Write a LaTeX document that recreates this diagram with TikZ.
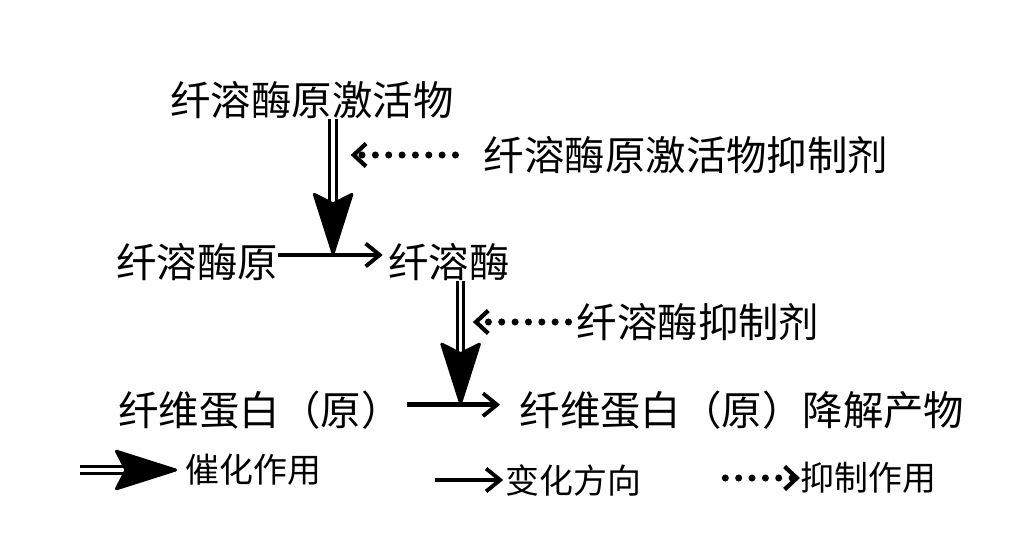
\documentclass[tikz,border=0pt]{standalone}
\usepackage{fontspec}
\setmainfont{Noto Sans CJK SC}
\usetikzlibrary{arrows.meta}
\begin{document}
\begin{tikzpicture}[x=0.02cm, y=-0.02cm,
    term/.style={inner sep=0pt, font=\fontsize{23}{28}\selectfont},
    key/.style={inner sep=0pt, anchor=west, font=\fontsize{19.3}{24}\selectfont},
    change/.style={line width=2.8pt, -{Straight Barb[length=8pt, width=13pt, line width=2.2pt]}},
    catalyse/.style={double, double distance=2pt, line width=1.7pt, -{Stealth[length=38pt, width=24pt, inset=6pt, round]}},
    inhibit/.style={line width=4pt, line cap=round, dash pattern=on 0pt off 7.6pt, -{Straight Barb[length=7pt, width=13pt, line width=2.4pt]}}]
    \useasboundingbox (0,0) rectangle (1029,534);
    % substances
    \node[term] (act) at (312,100) {纤溶酶原激活物};
    \node[term] (actinh) at (686,155) {纤溶酶原激活物抑制剂};
    \node[term] (pro) at (197,262) {纤溶酶原};
    \node[term] (pl) at (449,262) {纤溶酶};
    \node[term] (plinh) at (698,322) {纤溶酶抑制剂};
    \node[term] (fib) at (260,410) {纤维蛋白（原）};
    \node[term] (deg) at (742,410) {纤维蛋白（原）降解产物};
    % conversions
    \draw[change, shorten >=3pt] ([yshift=4pt]pro.east) -- ([yshift=4pt]pl.west) coordinate[pos=0.5] (j1);
    \draw[change, shorten <=3pt, shorten >=11pt] ([yshift=3pt]fib.east) -- ([yshift=3pt]deg.west) coordinate[pos=0.5] (j2);
    % catalysis and inhibition
    \draw[catalyse] (act.south -| j1) -- (j1);
    \draw[catalyse] (pl.south -| j2) -- (j2);
    \draw[inhibit] ([xshift=-16pt]actinh.west) -- ([xshift=10pt]actinh.west -| j1);
    \draw[inhibit] ([xshift=-4.5pt]plinh.west) -- ([xshift=7pt]plinh.west -| j2);
    % legend
    \node[key] (k1) at (185,470) {催化作用};
    \node[key] (k2) at (505,480) {变化方向};
    \node[key] (k3) at (800,478) {抑制作用};
    \draw[catalyse] ([xshift=-59.5pt]k1.west) -- ([xshift=-4.5pt]k1.west);
    \draw[change] ([xshift=-39.7pt]k2.west) -- ([xshift=-1pt]k2.west);
    \draw[inhibit] ([xshift=-42.5pt]k3.west) -- (k3.west);
\end{tikzpicture}
\end{document}
